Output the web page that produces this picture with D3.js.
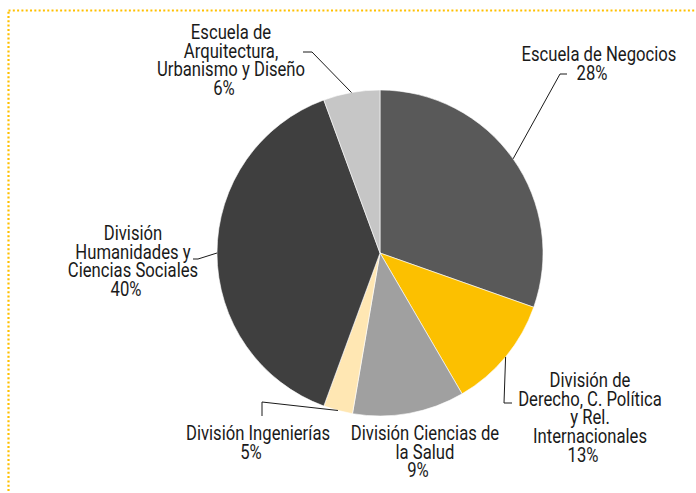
<html>
<head>
<meta charset="utf-8">
<script src="https://d3js.org/d3.v7.min.js"></script>
<style>
  body { margin: 0; background: #fff; }
  text {
    font-family: Roboto, "Noto Sans", sans-serif;
    font-weight: 400;
    font-size: 21px;
    fill: #1a1a1a;
  }
</style>
</head>
<body>
<svg id="chart" width="696" height="493"></svg>
<script>
var categories = [
  "Escuela de Negocios",
  "División de Derecho, C. Política y Rel. Internacionales",
  "División Ciencias de la Salud",
  "División Ingenierías",
  "División Humanidades y Ciencias Sociales",
  "Escuela de Arquitectura, Urbanismo y Diseño"
];
var values = [30.4, 11.2, 11.1, 2.9, 38.8, 5.6];
var percentLabels = ["28%", "13%", "9%", "5%", "40%", "6%"];
var labelLines = [
  ["Escuela de Negocios"],
  ["División de", "Derecho, C. Política", "y Rel.", "Internacionales"],
  ["División Ciencias de", "la Salud"],
  ["División Ingenierías"],
  ["División", "Humanidades y", "Ciencias Sociales"],
  ["Escuela de", "Arquitectura,", "Urbanismo y Diseño"]
];
var colors = ["#595959", "#fcc000", "#a0a0a0", "#ffe7b3", "#3f3f3f", "#c6c6c6"];

var svg = d3.select("#chart");
var cx = 380, cy = 253, radius = 163;
var lineStep = 18.7;

// dotted frame (only top and left edges are in view)
svg.append("rect")
  .attr("x", 8.5).attr("y", 10.5)
  .attr("width", 720).attr("height", 520)
  .attr("fill", "none")
  .attr("stroke", "#ffc000")
  .attr("stroke-width", 2.2)
  .attr("stroke-dasharray", "2,2.3");

var pie = d3.pie().sort(null).value(function (d) { return d; });
var arcs = pie(values);
var arc = d3.arc().innerRadius(0).outerRadius(radius);
var edge = d3.arc().innerRadius(radius).outerRadius(radius);

var g = svg.append("g").attr("transform", "translate(" + cx + "," + cy + ")");

g.selectAll("path.slice").data(arcs)
  .enter()
  .append("path")
  .attr("class", "slice")
  .attr("d", arc)
  .attr("fill", function (d, i) { return colors[i]; })
  .attr("stroke", "#fff")
  .attr("stroke-width", 0.6);

// the original uses a condensed face; squeeze a normal one to the same width
var probe = svg.append("text").text("Escuela de Negocios");
var sx = 155 / probe.node().getComputedTextLength();
probe.remove();
var pctShift = -7; // percent lines sit a little left of the name lines

// label placement: center x, first baseline, leader bend points (page coords)
var labelPos = [
  { x: 599, y: 61, leader: [[560, 74], [567, 74]] },
  { x: 590, y: 387, leader: [[504, 403], [512, 403]] },
  { x: 425, y: 440, leader: null },
  { x: 258, y: 440, leader: [[262, 402], [262, 416]] },
  { x: 133, y: 240, leader: [[198, 259], [193, 259]] },
  { x: 231, y: 39, leader: [[312, 52], [303, 52]] }
];

arcs.forEach(function (d, i) {
  var p = labelPos[i];
  if (p.leader) {
    var c = edge.centroid(d);
    var pts = [[c[0] + cx, c[1] + cy]].concat(p.leader);
    svg.append("path")
      .attr("d", d3.line()(pts))
      .attr("fill", "none")
      .attr("stroke", "#1a1a1a")
      .attr("stroke-width", 1);
  }
  var names = labelLines[i];
  var lines = names.concat([percentLabels[i]]);
  var t = svg.append("g")
    .attr("transform", "translate(" + p.x + "," + p.y + ") scale(" + sx + ",1)")
    .append("text")
    .attr("text-anchor", "middle");
  t.selectAll("tspan").data(lines)
    .enter()
    .append("tspan")
    .attr("x", function (l, j) { return j === names.length ? pctShift / sx : 0; })
    .attr("y", function (l, j) { return j * lineStep; })
    .text(function (l) { return l; });
});
</script>
</body>
</html>
